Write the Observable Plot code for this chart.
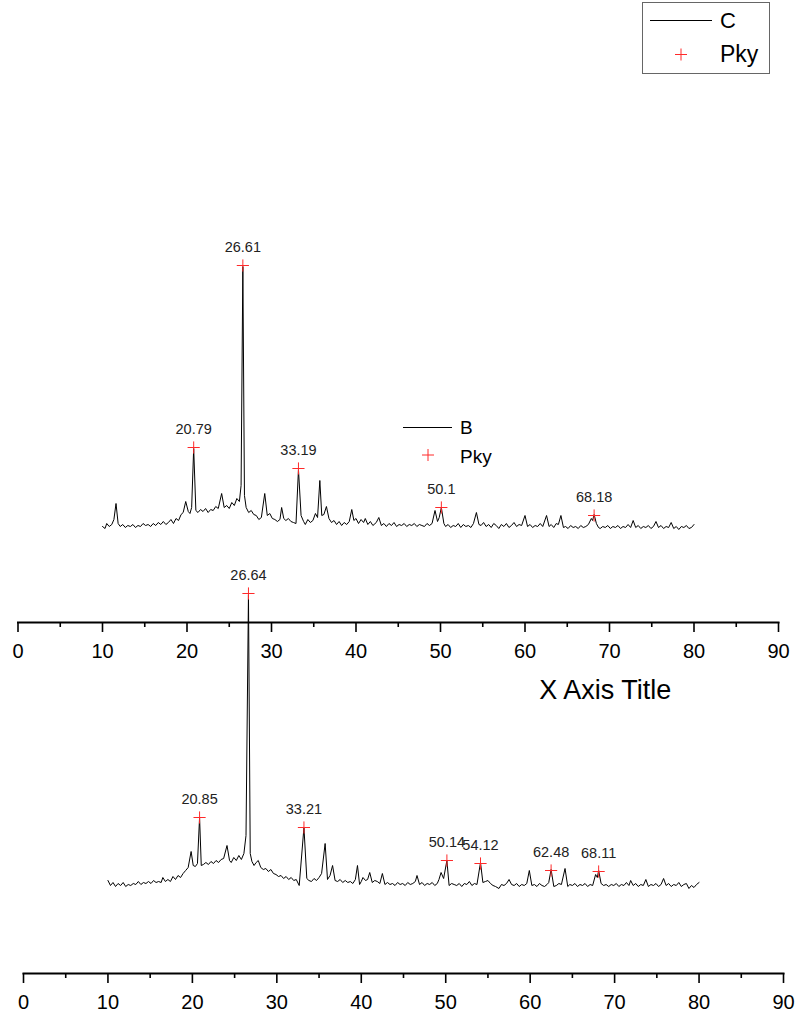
<!DOCTYPE html>
<html><head><meta charset="utf-8">
<script src="https://cdn.jsdelivr.net/npm/d3@7"></script>
<script src="https://cdn.jsdelivr.net/npm/@observablehq/plot@0.6"></script>
<style>
body{margin:0;background:#fff;font-family:"Liberation Sans",Arial,sans-serif;}
#wrap{position:relative;width:800px;height:1027px;overflow:hidden;background:#fff;}
#wrap svg{position:absolute;left:0;top:0;}
</style></head><body><div id="wrap"></div>
<script>
// ---- Series B (upper pattern) ----
const bAngle = [
10.0,10.3,10.5,10.8,11.1,11.35,11.6,11.85,12.1,12.4,
12.7,13.0,13.3,13.6,13.9,14.2,14.5,14.8,15.1,15.4,
15.7,16.0,16.3,16.6,16.9,17.2,17.5,17.8,18.1,18.4,
18.7,19.0,19.3,19.55,19.85,20.15,20.35,20.55,20.79,21.05,
21.3,21.6,21.9,22.2,22.5,22.8,23.1,23.4,23.7,24.1,
24.4,24.7,25.0,25.3,25.6,25.9,26.2,26.4,26.61,26.8,
27.0,27.3,27.6,27.9,28.2,28.5,28.8,29.2,29.5,29.8,
30.1,30.4,30.7,31.0,31.2,31.45,31.7,32.0,32.3,32.6,
32.9,33.19,33.5,33.8,34.0,34.3,34.6,34.9,35.2,35.45,
35.72,35.95,36.2,36.5,36.8,37.1,37.4,37.7,38.0,38.3,
38.6,38.9,39.2,39.5,39.75,40.0,40.3,40.6,40.9,41.1,
41.4,41.7,42.0,42.4,42.7,43.0,43.3,43.6,43.9,44.2,
44.5,44.8,45.1,45.4,45.7,46.0,46.3,46.6,46.9,47.2,
47.5,47.8,48.1,48.4,48.7,49.0,49.35,49.65,49.85,50.1,
50.4,50.6,50.9,51.2,51.5,51.8,52.1,52.4,52.7,53.0,
53.3,53.6,53.9,54.25,54.55,54.8,55.1,55.4,55.7,56.0,
56.3,56.6,56.9,57.2,57.5,57.8,58.1,58.4,58.7,59.0,
59.3,59.6,60.0,60.3,60.6,60.9,61.2,61.5,61.8,62.1,
62.55,62.85,63.1,63.4,63.7,63.95,64.25,64.55,64.8,65.1,
65.4,65.7,66.0,66.3,66.6,66.9,67.2,67.5,67.85,68.0,
68.18,68.45,68.7,68.9,69.2,69.5,69.8,70.1,70.4,70.7,
71.0,71.3,71.6,71.9,72.2,72.5,72.8,73.1,73.4,73.7,
74.0,74.3,74.6,74.9,75.2,75.5,75.8,76.1,76.4,76.7,
77.0,77.3,77.6,77.9,78.2,78.5,78.8,79.1,79.4,79.7,
80.0];
const bCounts = [
19,17,22,19,21,26,42,22,19,21,
18,20,19,21,18,20,19,22,20,21,
19,22,20,23,21,24,21,23,26,22,
27,25,31,33,44,34,32,38,97,35,
33,36,34,37,33,36,35,39,37,52,
38,40,37,43,40,47,44,60,279,50,
38,33,35,31,30,26,28,52,30,32,
27,26,24,26,38,27,25,27,24,23,
22,76,30,24,21,26,23,25,32,28,
65,30,31,39,27,23,25,21,24,20,
23,21,24,36,25,27,22,26,23,27,
21,24,20,23,28,20,22,19,22,20,
23,19,21,20,22,19,21,20,22,19,
21,20,19,22,20,22,35,24,28,38,
22,19,21,18,20,19,22,18,21,19,
20,18,22,33,21,20,23,19,21,18,
22,20,17,21,19,22,18,20,23,19,
21,20,30,19,21,18,20,19,22,19,
30,19,21,18,22,21,30,18,19,17,
20,18,19,17,20,18,19,21,27,25,
31,22,18,17,19,18,20,17,19,18,
20,17,19,18,21,18,25,18,20,17,
19,18,20,17,19,24,18,20,17,19,
18,23,17,19,16,19,18,20,17,18,
21];
const bPeakAngle = [20.79, 26.61, 33.19, 50.1, 68.18];
const bPeakCounts = [98, 280, 77, 38, 30];
const bPeakLabel = ["20.79", "26.61", "33.19", "50.1", "68.18"];

// ---- Series C (lower pattern) ----
const cAngle = [
10.0,10.3,10.6,10.9,11.2,11.5,11.8,12.1,12.4,12.7,
13.0,13.3,13.6,13.9,14.2,14.5,14.8,15.1,15.4,15.7,
16.0,16.3,16.5,16.8,17.1,17.4,17.7,18.0,18.3,18.6,
18.9,19.2,19.5,19.85,20.1,20.35,20.6,20.85,21.05,21.3,
21.6,21.9,22.2,22.5,22.8,23.1,23.4,23.7,24.1,24.4,
24.6,24.9,25.2,25.5,25.8,26.1,26.35,26.64,26.85,27.05,
27.3,27.55,27.8,28.1,28.4,28.7,29.0,29.3,29.6,29.9,
30.2,30.5,30.8,31.1,31.4,31.7,32.0,32.3,32.65,33.21,
33.55,33.8,34.1,34.4,34.7,35.0,35.3,35.72,36.0,36.3,
36.6,36.9,37.2,37.5,37.8,38.1,38.4,38.7,39.0,39.3,
39.55,39.8,40.0,40.2,40.5,40.75,41.0,41.3,41.6,41.9,
42.2,42.5,42.8,43.1,43.4,43.7,44.0,44.3,44.6,44.9,
45.2,45.5,45.8,46.1,46.4,46.6,46.9,47.2,47.5,47.8,
48.1,48.4,48.7,49.0,49.2,49.45,49.75,50.14,50.4,50.7,
51.0,51.3,51.6,51.9,52.2,52.5,52.8,53.1,53.4,53.7,
54.12,54.4,54.7,55.0,55.3,55.6,55.9,56.3,56.6,56.9,
57.2,57.5,57.8,58.1,58.4,58.7,59.0,59.3,59.6,59.9,
60.2,60.5,60.8,61.1,61.4,61.7,62.0,62.2,62.48,62.8,
63.1,63.4,63.7,64.13,64.45,64.7,65.0,65.3,65.6,65.9,
66.2,66.5,66.8,67.1,67.4,67.75,67.95,68.11,68.4,68.7,
69.0,69.3,69.6,69.9,70.2,70.5,70.8,71.1,71.4,71.7,
71.9,72.2,72.5,72.8,73.1,73.4,73.7,74.0,74.3,74.6,
74.9,75.2,75.5,75.8,76.1,76.4,76.7,77.0,77.3,77.6,
77.9,78.2,78.5,78.8,79.1,79.4,79.7,80.0];
const cCounts = [
25,20,23,19,22,20,23,19,21,20,
22,21,24,21,23,22,24,22,25,23,
24,23,28,24,26,24,29,26,30,28,
32,35,38,54,40,39,42,88,40,41,
43,41,44,42,45,43,46,47,60,45,
43,48,45,50,46,52,70,311,52,44,
40,43,45,38,36,37,34,36,32,31,
29,30,27,29,26,28,25,26,20,78,
27,25,24,27,25,28,32,62,26,30,
40,25,24,26,23,25,23,24,22,26,
40,21,24,28,25,26,33,23,25,24,
22,32,21,23,21,22,20,23,21,22,
20,23,21,22,24,30,21,23,20,22,
21,23,20,22,26,33,27,45,20,22,
21,20,22,19,22,21,24,20,22,21,
43,23,24,25,22,20,19,17,21,20,
22,26,21,20,22,19,21,20,22,35,
20,21,19,22,20,19,21,23,36,19,
20,22,21,37,19,21,20,22,19,21,
20,22,19,21,20,31,28,35,22,20,
21,19,21,20,22,19,21,20,23,20,
25,20,22,19,21,20,26,19,21,20,
22,19,21,27,20,22,19,21,20,23,
19,21,22,17,20,18,21,23];
const cPeakAngle = [20.85, 26.64, 33.21, 50.14, 54.12, 62.48, 68.11];
const cPeakCounts = [88, 312, 78, 45, 42, 35, 34];
const cPeakLabel = ["20.85", "26.64", "33.21", "50.14", "54.12", "62.48", "68.11"];

// ---- Axis ----
const xTicks = [0, 10, 20, 30, 40, 50, 60, 70, 80, 90];
const xMinorTicks = [5, 15, 25, 35, 45, 55, 65, 75, 85];
const xTitle = "X Axis Title";

const W = 800, H = 1027;
const FONT = "'Liberation Sans', Arial, sans-serif";

function panel(o) {
  const data = o.angle.map((a, i) => ({a, v: o.counts[i]}));
  const peaks = o.peakAngle.map((a, i) => ({a, v: o.peakCounts[i], t: o.peakLabel[i]}));
  const marks = [
    Plot.frame({anchor: "bottom", stroke: "#000", strokeWidth: 2}),
    Plot.axisX({ticks: xMinorTicks, tickSize: 5, tickFormat: () => "", label: null, stroke: "#000", strokeWidth: 1.6}),
    Plot.axisX({ticks: xTicks, tickSize: 10, tickPadding: 11, fontSize: 20, label: null, color: "#000", strokeWidth: 1.6, tickFormat: d => String(d)}),
    Plot.line(data, {x: "a", y: "v", stroke: "#000", strokeWidth: 1}),
    Plot.dot(peaks, {x: "a", y: "v", symbol: "plus", r: 4, stroke: "#ff2a2a", strokeWidth: 1}),
    Plot.text(peaks, {x: "a", y: "v", text: "t", dy: -18, fontSize: 14.5, fill: "#222"})
  ];
  if (o.title) marks.push(Plot.text([o.title], {frameAnchor: "bottom", dx: 207, dy: 76, lineAnchor: "bottom", fontSize: 27, fill: "#000"}));
  return Plot.plot({
    width: W, height: H,
    marginLeft: o.left, marginRight: W - o.right, marginTop: 0, marginBottom: H - o.axisAt,
    x: {domain: [0, 90], axis: null, label: null},
    y: {domain: [0, o.yMax], range: [o.zeroAt, o.zeroAt - o.yMax], axis: null, label: null},
    style: {background: "transparent", fontFamily: FONT, color: "#000"},
    marks
  });
}

const wrap = document.getElementById("wrap");
wrap.appendChild(panel({angle: bAngle, counts: bCounts, peakAngle: bPeakAngle, peakCounts: bPeakCounts, peakLabel: bPeakLabel,
  left: 17.5, right: 778, axisAt: 622, zeroAt: 545, yMax: 300, title: xTitle}));
wrap.appendChild(panel({angle: cAngle, counts: cCounts, peakAngle: cPeakAngle, peakCounts: cPeakCounts, peakLabel: cPeakLabel,
  left: 23, right: 783, axisAt: 973, zeroAt: 905, yMax: 320}));

// ---- Legends (Origin style) ----
const leg = d3.create("svg").attr("width", W).attr("height", H).style("font-family", FONT);
function plusSym(g, x, y) {
  g.append("path").attr("d", `M${x-6},${y}H${x+6}M${x},${y-6}V${y+6}`).attr("stroke", "#ff2a2a").attr("stroke-width", 1).attr("fill", "none");
}
const lc = leg.append("g");
lc.append("rect").attr("x", 642.5).attr("y", 2.5).attr("width", 127).attr("height", 71).attr("fill", "#fff").attr("stroke", "#666").attr("stroke-width", 1);
lc.append("line").attr("x1", 650).attr("x2", 712).attr("y1", 20.5).attr("y2", 20.5).attr("stroke", "#000");
lc.append("text").attr("x", 720).attr("y", 28).attr("font-size", 22).text("C");
plusSym(lc, 681, 54.5);
lc.append("text").attr("x", 720).attr("y", 62).attr("font-size", 23).text("Pky");
const lb = leg.append("g");
lb.append("line").attr("x1", 403).attr("x2", 452).attr("y1", 427.5).attr("y2", 427.5).attr("stroke", "#000");
lb.append("text").attr("x", 460).attr("y", 434).attr("font-size", 19).text("B");
plusSym(lb, 428, 455);
lb.append("text").attr("x", 460).attr("y", 463).attr("font-size", 19).text("Pky");
wrap.appendChild(leg.node());
</script></body></html>
